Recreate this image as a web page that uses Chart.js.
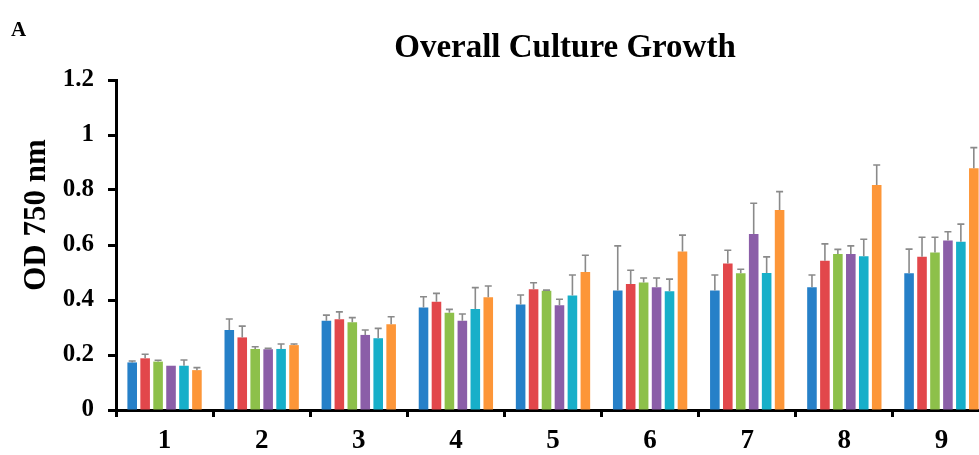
<!DOCTYPE html>
<html>
<head>
<meta charset="utf-8">
<script src="https://cdn.jsdelivr.net/npm/chart.js@4/dist/chart.umd.min.js"></script>
<style>
  html, body { margin: 0; padding: 0; background: #fff; overflow: hidden; }
  #wrap { position: absolute; left: 0; top: 0; width: 1000px; height: 455px; }
</style>
</head>
<body>
<div id="wrap"><canvas id="c" width="1000" height="455"></canvas></div>
<script>
// Time points (x axis categories)
const categories = ['1', '2', '3', '4', '5', '6', '7', '8', '9'];

// Mean OD 750 nm per culture condition
const seriesA = [0.173, 0.291, 0.325, 0.373, 0.384, 0.435, 0.435, 0.446, 0.497];
const seriesB = [0.188, 0.264, 0.330, 0.394, 0.439, 0.458, 0.533, 0.543, 0.557];
const seriesC = [0.176, 0.222, 0.319, 0.354, 0.434, 0.464, 0.497, 0.567, 0.573];
const seriesD = [0.161, 0.221, 0.273, 0.325, 0.381, 0.446, 0.640, 0.567, 0.616];
const seriesE = [0.161, 0.222, 0.261, 0.367, 0.416, 0.432, 0.498, 0.559, 0.612];
const seriesF = [0.145, 0.236, 0.312, 0.410, 0.502, 0.576, 0.727, 0.818, 0.879];

// Standard deviations (upper error bars)
const errA = [0.005, 0.040, 0.020, 0.039, 0.034, 0.162, 0.056, 0.045, 0.088];
const errB = [0.015, 0.041, 0.027, 0.030, 0.024, 0.050, 0.048, 0.061, 0.071];
const errC = [0.005, 0.008, 0.017, 0.012, 0.002, 0.016, 0.015, 0.017, 0.055];
const errD = [0.000, 0.003, 0.018, 0.024, 0.022, 0.034, 0.112, 0.030, 0.032];
const errE = [0.021, 0.018, 0.036, 0.078, 0.075, 0.044, 0.059, 0.062, 0.064];
const errF = [0.009, 0.004, 0.027, 0.041, 0.061, 0.060, 0.067, 0.073, 0.075];

// Y axis ticks
const yTicks = [0, 0.2, 0.4, 0.6, 0.8, 1, 1.2];

const colors = ['#2680c8', '#e2474b', '#8dc04a', '#8b5ea8', '#17afc9', '#fd9638'];
const values = [seriesA, seriesB, seriesC, seriesD, seriesE, seriesF];
const errors = [errA, errB, errC, errD, errE, errF];

const SERIF = '"Liberation Serif", "Times New Roman", serif';

// Upper error bars drawn on top of each bar
const errorBars = {
  id: 'errorBars',
  afterDatasetsDraw(chart) {
    const ctx = chart.ctx;
    const y = chart.scales.y;
    ctx.save();
    ctx.strokeStyle = '#8a8a8a';
    ctx.lineWidth = 1.6;
    chart.data.datasets.forEach((ds, di) => {
      const meta = chart.getDatasetMeta(di);
      meta.data.forEach((bar, i) => {
        const e = ds.err[i];
        if (!e) return;
        const top = y.getPixelForValue(ds.data[i] + e);
        const base = y.getPixelForValue(ds.data[i]);
        ctx.beginPath();
        ctx.moveTo(bar.x, base);
        ctx.lineTo(bar.x, top);
        ctx.moveTo(bar.x - 3.5, top);
        ctx.lineTo(bar.x + 3.5, top);
        ctx.stroke();
      });
    });
    ctx.restore();
  }
};

// Panel letter, chart title and y axis title
const labels = {
  id: 'labels',
  afterDraw(chart) {
    const ctx = chart.ctx;
    ctx.save();
    ctx.fillStyle = '#000';
    ctx.textBaseline = 'alphabetic';
    ctx.textAlign = 'left';
    ctx.font = 'bold 21px ' + SERIF;
    ctx.fillText('A', 11, 36);
    ctx.textAlign = 'center';
    ctx.font = 'bold 33px ' + SERIF;
    ctx.fillText('Overall Culture Growth', 565, 57);
    ctx.translate(45, 215);
    ctx.rotate(-Math.PI / 2);
    ctx.font = 'bold 31px ' + SERIF;
    ctx.fillText('OD 750 nm', 0, 0);
    ctx.restore();
  }
};

new Chart(document.getElementById('c'), {
  type: 'bar',
  data: {
    labels: categories,
    datasets: values.map((v, i) => ({
      data: v,
      err: errors[i],
      backgroundColor: colors[i],
      borderWidth: 0,
      categoryPercentage: 0.8,
      barPercentage: 0.74
    }))
  },
  options: {
    responsive: false,
    animation: false,
    devicePixelRatio: 1,
    layout: { padding: { top: 80, right: 10, left: 0, bottom: 0 } },
    plugins: {
      legend: { display: false },
      tooltip: { enabled: false },
      title: { display: false }
    },
    scales: {
      x: {
        afterFit(s) { s.height = 45; },
        grid: {
          offset: true,
          drawOnChartArea: false,
          drawTicks: true,
          tickLength: 7,
          tickWidth: 3,
          tickColor: '#000'
        },
        border: { display: true, color: '#000', width: 3 },
        ticks: {
          color: '#000',
          padding: 8,
          font: { family: SERIF, size: 27, weight: 'bold' }
        }
      },
      y: {
        min: 0,
        max: 1.2,
        afterFit(s) { s.width = 116; },
        afterBuildTicks(s) { s.ticks = yTicks.map(v => ({ value: v })); },
        grid: {
          drawOnChartArea: false,
          drawTicks: true,
          tickLength: 8,
          tickWidth: 3,
          tickColor: '#000'
        },
        border: { display: true, color: '#000', width: 3 },
        ticks: {
          color: '#000',
          padding: 14,
          font: { family: SERIF, size: 25, weight: 'bold' },
          callback: v => String(v)
        }
      }
    }
  },
  plugins: [errorBars, labels]
});
</script>
</body>
</html>
